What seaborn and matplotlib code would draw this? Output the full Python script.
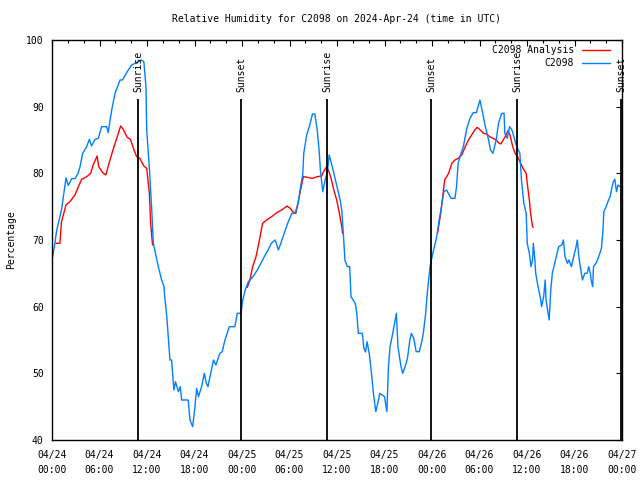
import numpy as np
import pandas as pd
import matplotlib
matplotlib.use("Agg")
import matplotlib.pyplot as plt
import matplotlib.dates as mdates
from matplotlib.lines import Line2D
import seaborn as sns

start = pd.Timestamp("2024-04-24 00:00")

# C2098 observations: hours since start, relative humidity
obs_hours = [0.0, 0.3, 0.6, 1.2, 1.5, 1.77, 2.06, 2.48, 2.9, 3.3, 3.54, 3.87, 4.38, 4.72, 5.0, 5.43,
             5.85, 6.27, 6.9, 7.1, 7.54, 7.96, 8.6, 8.9, 9.5, 10.07, 10.5, 11.3, 11.6, 11.87, 11.96,
             12.3, 12.6, 12.8, 13.43, 13.85, 14.15, 14.2, 14.5, 14.78, 14.9, 15.1, 15.4, 15.6, 15.96,
             16.2, 16.38, 17.2, 17.43, 17.77, 18.06, 18.27, 18.5, 18.9, 19.24, 19.5, 19.7, 20.04, 20.4,
             20.7, 21.2, 21.5, 21.85, 22.4, 23.1, 23.4, 23.87, 24.1, 24.4, 24.8, 25.4, 26.06, 26.7,
             27.3, 27.7, 28.2, 28.6, 28.9, 29.4, 29.85, 30.3, 30.7, 31.1, 31.4, 31.67, 31.8, 32.17,
             32.5, 32.9, 33.2, 33.5, 33.77, 33.9, 34.2, 34.5, 34.8, 35.0, 35.3, 35.6, 36.0, 36.4, 36.6,
             36.8, 37.0, 37.3, 37.6, 37.77, 38.3, 38.5, 38.7, 39.2, 39.4, 39.6, 39.8, 40.1, 40.4, 40.6,
             40.9, 41.2, 41.4, 41.7, 42.0, 42.3, 42.5, 42.7, 43.0, 43.3, 43.5, 43.7, 44.05, 44.3, 44.6,
             44.9, 45.2, 45.4, 45.7, 46.0, 46.4, 46.7, 46.9, 47.2, 47.4, 47.75, 48.2, 48.6, 48.9, 49.2,
             49.5, 49.85, 50.4, 50.9, 51.1, 51.3, 51.6, 51.96, 52.4, 52.8, 53.2, 53.6, 54.06, 54.4,
             54.7, 55.1, 55.4, 55.7, 56.1, 56.4, 56.8, 57.1, 57.2, 57.5, 57.8, 58.1, 58.4, 58.7, 59.1,
             59.3, 59.6, 59.9, 60.03, 60.3, 60.5, 60.7, 60.8, 61.0, 61.1, 61.4, 61.7, 61.85, 62.1, 62.3,
             62.4, 62.8, 63.0, 63.2, 63.4, 63.7, 64.0, 64.4, 64.6, 64.8, 65.1, 65.3, 65.6, 65.9, 66.2,
             66.35, 66.6, 66.8, 67.0, 67.3, 67.6, 67.8, 68.0, 68.1, 68.3, 68.4, 68.7, 68.9, 69.2, 69.4,
             69.6, 69.7, 70.0, 70.3, 70.5, 70.7, 70.9, 71.1, 71.3, 71.5, 71.75]
obs_rh = [67, 69, 71.5, 74.5, 77, 79.3, 78.2, 79.2, 79.2, 80, 81, 83, 84, 85.1, 84.1, 85.1,
          85.25, 87, 87, 86.1, 89.5, 92, 94, 94, 95.25, 96.25, 96.5, 97, 96.75, 93, 86.5,
          80.75, 74.5, 69.5, 66, 64, 63, 62, 58.5, 54, 52, 52, 47.5, 48.75, 47.25,
          48, 46, 46, 43, 42, 45, 47.75, 46.5, 48, 50, 48.5, 48, 50, 52,
          51.25, 53, 53.25, 55, 57, 57, 59, 59, 61, 62.5, 63.75, 64.5, 65.75, 67.25,
          68.5, 69.5, 70, 68.5, 69.5, 71.25, 72.75, 74, 74, 75.5, 78, 79.75, 83, 85.75,
          87, 88.9, 88.9, 86.5, 83, 80.5, 77.25, 79, 80.25, 82.75, 81.5, 80, 78, 76, 74.5,
          71, 67, 66, 66, 61.5, 60.5, 59, 56, 56, 53.75, 53.2, 54.75, 52.75, 49.5, 47,
          44.25, 45.75, 47, 46.75, 46.5, 44.25, 51, 54, 55.75, 57.75, 59, 54, 51.25, 50, 51,
          52.25, 55, 56, 55.25, 53.25, 53.25, 54.75, 56, 59, 62, 66, 68.5, 70.5, 73, 75,
          77.25, 77.5, 76.25, 76.25, 78, 81.5, 82.75, 84, 86.75, 88.25, 89.1, 89.1, 91, 89,
          87.25, 85.25, 83.5, 83, 85, 87.5, 89, 89, 86, 85.25, 87, 86.5, 85.25, 84, 83,
          79, 75.5, 74, 69.5, 68, 66, 67, 69.5, 67, 65, 63, 61.25, 60, 61.5, 64,
          61, 58, 62.5, 65, 66, 67.5, 69, 69.25, 70, 67.5, 66.5, 67, 66, 67.5, 69,
          70, 67, 65.5, 64, 65, 65, 66, 65, 64, 63, 66, 66.5, 67, 68, 68.75,
          71.5, 74.25, 75, 76, 76.5, 77.75, 78.75, 79.1, 77.25, 78.25, 78]

# C2098 analysis, three separate runs
ana_seg = [1] * 30 + [2] * 30 + [3] * 37
ana_hours = [0.5, 1.0, 1.2, 1.77, 2.27, 2.9, 3.33, 3.75, 4.38, 4.88, 5.2, 5.7, 5.9, 6.4, 6.8,
             7.2, 7.83, 8.25, 8.67, 9.0, 9.5, 9.9, 10.36, 10.7, 11.1, 11.6, 11.96, 12.3, 12.46, 12.7,
             24.67, 25.0, 25.35, 25.77, 26.2, 26.6, 27.1, 27.75, 28.4, 29.0, 29.7, 30.1, 30.4, 30.8,
             31.1, 31.4, 31.75, 32.25, 32.9, 33.5, 34.06, 34.3, 34.7, 35.0, 35.3, 35.6, 35.96, 36.3,
             36.6, 36.7,
             48.7, 49.1, 49.4, 49.6, 50.1, 50.5, 50.9, 51.3, 51.75, 52.2, 52.6, 53.0, 53.4, 53.7,
             54.1, 54.5, 54.9, 55.3, 55.7, 56.1, 56.4, 56.7, 57.0, 57.35, 57.6, 57.85, 58.2, 58.5,
             58.8, 59.1, 59.5, 59.9, 60.03, 60.3, 60.45, 60.7, 60.8]
ana_rh = [69.5, 69.5, 72.75, 75.25, 75.75, 76.75, 78, 79.1, 79.5, 80, 81.25, 82.6, 81, 80.1, 79.75,
          81.5, 84, 85.5, 87.1, 86.6, 85.4, 85.1, 83.5, 82.5, 82.25, 81.1, 80.75, 77, 72.5, 69.25,
          62.9, 64, 66, 67.5, 70, 72.5, 73, 73.5, 74.1, 74.5, 75.1, 74.75, 74.25, 74,
          75.75, 77.5, 79.5, 79.4, 79.25, 79.5, 79.6, 80.25, 81, 80.25, 79, 77.5, 76, 74,
          72, 71,
          71, 74, 77, 79, 80, 81.5, 82, 82.25, 82.75, 84, 85, 85.75, 86.5, 86.9,
          86.5, 86, 85.9, 85.5, 85.25, 85, 84.6, 84.4, 85, 85.75, 86.4, 85.75, 84, 83,
          82.5, 81.75, 80.75, 80, 78.5, 76, 74, 72, 71.9]

sun_labels = ["Sunrise", "Sunset", "Sunrise", "Sunset", "Sunrise", "Sunset"]
sun_hours = [10.88, 23.93, 34.78, 47.93, 58.75, 71.87]

obs = pd.DataFrame({"time": start + pd.to_timedelta(obs_hours, unit="h"), "rh": obs_rh})
ana = pd.DataFrame({"time": start + pd.to_timedelta(ana_hours, unit="h"), "rh": ana_rh, "seg": ana_seg})
sun_times = start + pd.to_timedelta(sun_hours, unit="h")

sns.set_style("white")
plt.rcParams["font.family"] = ["DejaVu Sans Mono"]
plt.rcParams["font.size"] = 7
plt.rcParams["text.color"] = "black"
plt.rcParams["axes.labelcolor"] = "black"
plt.rcParams["xtick.color"] = "black"
plt.rcParams["ytick.color"] = "black"

fig = plt.figure(figsize=(6.4, 4.8), dpi=100)
ax = fig.add_axes([52 / 640, 40 / 480, 570 / 640, 400 / 480])

red = "#ff0000"
blue = "#0080ff"

for s, d in ana.groupby("seg"):
    sns.lineplot(data=d, x="time", y="rh", ax=ax, color=red, lw=1.0, sort=False,
                 estimator=None, legend=False)
sns.lineplot(data=obs, x="time", y="rh", ax=ax, color=blue, lw=1.0, sort=False,
             estimator=None, legend=False)

ax.vlines(sun_times, 40, 91.2, color="black", lw=1.3)
for t, lab in zip(sun_times, sun_labels):
    ax.text(t, 92.2, lab, rotation=90, ha="center", va="bottom", fontsize=7)

ax.set_xlim(start, start + pd.Timedelta(hours=72))
ax.set_ylim(40, 100)
ax.set_yticks(range(40, 101, 10))
ax.xaxis.set_major_locator(mdates.HourLocator(byhour=range(0, 24, 6)))
ax.xaxis.set_minor_locator(mdates.HourLocator(byhour=range(0, 24, 2)))
ax.xaxis.set_major_formatter(mdates.DateFormatter("%m/%d\n%H:%M"))
ax.tick_params(axis="both", which="both", direction="in", top=True, right=True, labelsize=7,
               colors="black")
ax.tick_params(axis="both", which="major", length=4, width=0.8)
ax.tick_params(axis="x", which="major", pad=7)
ax.tick_params(axis="y", which="major", pad=6)
ax.tick_params(axis="x", which="minor", length=2.2, width=0.8)
for lbl in ax.get_xticklabels():
    lbl.set_linespacing(1.6)
for sp in ax.spines.values():
    sp.set_color("black")
    sp.set_linewidth(1.0)

ax.set_xlabel("")
ax.set_ylabel("Percentage", fontsize=7, labelpad=7, color="black")
ax.set_title("Relative Humidity for C2098 on 2024-Apr-24 (time in UTC)", fontsize=7, pad=13,
             color="black")

handles = [Line2D([], [], color=red, lw=1.0), Line2D([], [], color=blue, lw=1.0)]
leg = ax.legend(handles, ["C2098 Analysis", "C2098"], loc="upper right", frameon=False,
                markerfirst=False, fontsize=7, handlelength=2.9, handletextpad=0.8,
                labelspacing=0.35, borderaxespad=0.0, borderpad=0.0,
                bbox_to_anchor=(1 - 12 / 570, 1 - 5 / 400))
for t in leg.get_texts():
    t.set_color("black")

fig.savefig("out.png", dpi=100)
